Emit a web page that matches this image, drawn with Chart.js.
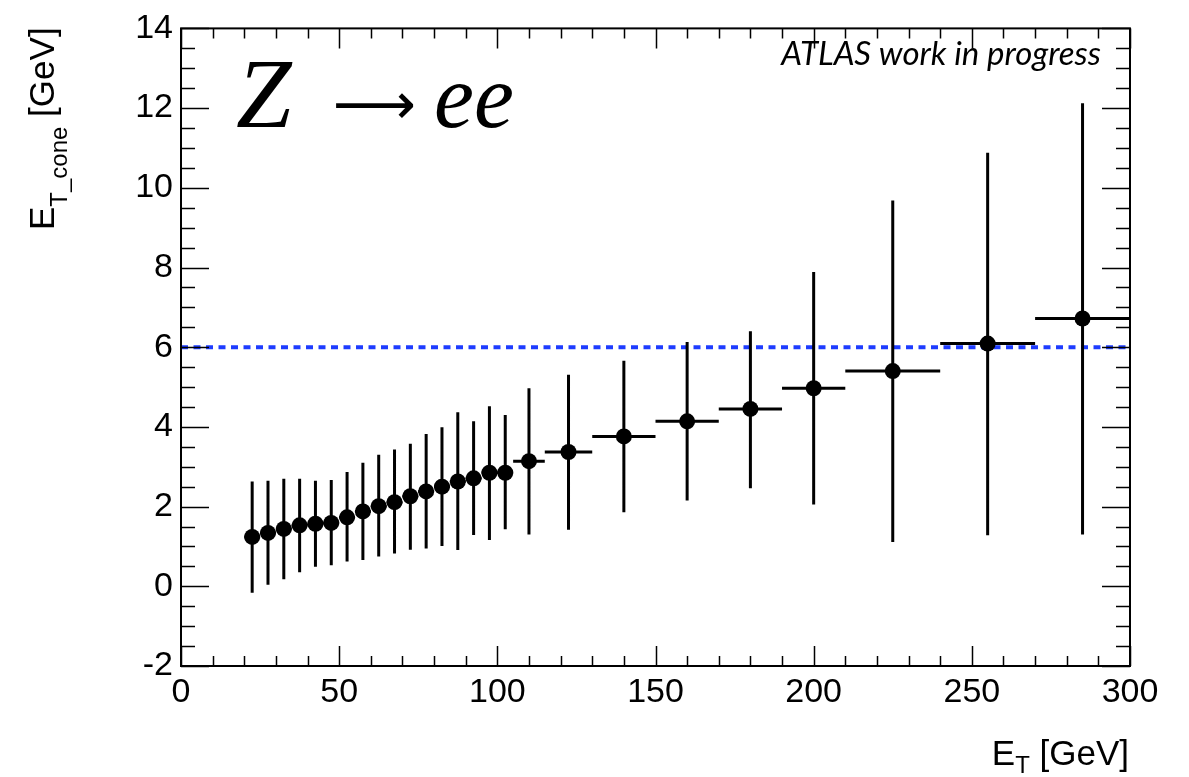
<!DOCTYPE html>
<html>
<head>
<meta charset="utf-8">
<script src="https://cdn.jsdelivr.net/npm/chart.js@4.4.1/dist/chart.umd.min.js"></script>
<style>
  html, body { margin: 0; padding: 0; background: #fff; }
  canvas { display: block; }
</style>
</head>
<body>
<canvas id="cone" width="1189" height="777"></canvas>
<script>
// bin centres and half widths in E_T [GeV]
const etCenter = [22.5, 27.5, 32.5, 37.5, 42.5, 47.5, 52.5, 57.5, 62.5, 67.5, 72.5, 77.5, 82.5, 87.5, 92.5, 97.5, 102.5,
                  110, 122.5, 140, 160, 180, 200, 225, 255, 285]
const etHalfWidth = [2.5, 2.5, 2.5, 2.5, 2.5, 2.5, 2.5, 2.5, 2.5, 2.5, 2.5, 2.5, 2.5, 2.5, 2.5, 2.5, 2.5,
                     5, 7.5, 10, 10, 10, 10, 15, 15, 15]
// mean E_T_cone and the ends of the vertical error bars [GeV]
const coneMean = [1.24, 1.34, 1.44, 1.53, 1.57, 1.59, 1.73, 1.88, 2.01, 2.11, 2.26, 2.38, 2.50, 2.63, 2.71, 2.85, 2.85,
                  3.14, 3.37, 3.76, 4.14, 4.45, 4.97, 5.40, 6.09, 6.72]
const coneHigh = [2.63, 2.65, 2.70, 2.70, 2.65, 2.67, 2.87, 3.10, 3.30, 3.43, 3.58, 3.82, 3.99, 4.37, 4.14, 4.52, 4.30,
                  4.97, 5.31, 5.66, 6.13, 6.40, 7.89, 9.68, 10.88, 12.12]
const coneLow = [-0.16, 0.04, 0.18, 0.35, 0.49, 0.53, 0.62, 0.66, 0.75, 0.82, 0.92, 0.95, 1.01, 0.91, 1.29, 1.16, 1.43,
                 1.30, 1.42, 1.86, 2.15, 2.46, 2.05, 1.11, 1.28, 1.30]
// dashed reference level
const cutLevel = 6
const cutRange = [0, 300]
// axes
const xRange = [0, 300], xMajor = 50, xMinor = 10
const yRange = [-2, 14], yMajor = 2, yMinor = 0.5

const tickFont = {family: "'Liberation Sans', Arial, sans-serif", size: 34}

const errorBars = {
    id: 'errorBars',
    beforeDatasetDraw(chart, args) {
        if (args.index !== 0) return
        const {ctx, scales: {x, y}} = chart
        ctx.save()
        ctx.strokeStyle = '#000'
        ctx.lineWidth = 3
        ctx.beginPath()
        etCenter.forEach((et, i) => {
            const px = x.getPixelForValue(et), py = y.getPixelForValue(coneMean[i])
            ctx.moveTo(px, y.getPixelForValue(coneLow[i]))
            ctx.lineTo(px, y.getPixelForValue(coneHigh[i]))
            ctx.moveTo(x.getPixelForValue(et - etHalfWidth[i]), py)
            ctx.lineTo(x.getPixelForValue(et + etHalfWidth[i]), py)
        })
        ctx.stroke()
        ctx.restore()
    }
}

// ROOT style frame with inside ticks on all four sides, plus titles and labels
const frame = {
    id: 'frame',
    afterDraw(chart) {
        const {ctx, chartArea: a, scales: {x, y}} = chart
        ctx.save()
        ctx.strokeStyle = '#000'
        ctx.lineWidth = 1.5
        ctx.beginPath()
        for (let v = xRange[0]; v <= xRange[1] + 1e-9; v += xMinor) {
            const px = Math.round(x.getPixelForValue(v)) + 0.5
            const len = Math.abs(v % xMajor) < 1e-9 ? 20 : 10
            ctx.moveTo(px, a.bottom); ctx.lineTo(px, a.bottom - len)
            ctx.moveTo(px, a.top); ctx.lineTo(px, a.top + len)
        }
        for (let v = yRange[0]; v <= yRange[1] + 1e-9; v += yMinor) {
            const py = Math.round(y.getPixelForValue(v)) + 0.5
            const len = Math.abs((v - yRange[0]) % yMajor) < 1e-9 ? 28 : 14
            ctx.moveTo(a.left, py); ctx.lineTo(a.left + len, py)
            ctx.moveTo(a.right, py); ctx.lineTo(a.right - len, py)
        }
        ctx.stroke()
        ctx.lineWidth = 2
        ctx.strokeRect(a.left, a.top, a.right - a.left, a.bottom - a.top)

        // axis titles with subscripts
        const big = "35px 'Liberation Sans', Arial, sans-serif"
        const small = "24px 'Liberation Sans', Arial, sans-serif"
        ctx.fillStyle = '#000'
        ctx.textBaseline = 'alphabetic'
        ctx.textAlign = 'left'
        const parts = (list) => list.map(([t, f, dy]) => {
            ctx.font = f
            return {t, f, dy, w: ctx.measureText(t).width}
        })
        const drawParts = (list, startX) => {
            let cx = startX
            list.forEach(p => {
                ctx.font = p.f
                ctx.fillText(p.t, cx, p.dy)
                cx += p.w
            })
        }
        const xt = parts([['E', big, 0], ['T', small, 8], [' [GeV]', big, 0]])
        const xw = xt.reduce((s, p) => s + p.w, 0)
        ctx.save()
        ctx.translate(0, 765)
        drawParts(xt, a.right - xw - 1)
        ctx.restore()

        const yt = parts([['E', big, 0], ['T_cone', small, 13], [' [GeV]', big, 0]])
        const yw = yt.reduce((s, p) => s + p.w, 0)
        ctx.save()
        ctx.translate(54, a.top + yw - 1)
        ctx.rotate(-Math.PI / 2)
        drawParts(yt, 0)
        ctx.restore()

        // labels inside the frame
        ctx.font = "italic 33px Lato, 'Open Sans', sans-serif"
        ctx.textAlign = 'right'
        ctx.fillText('ATLAS work in progress', 1101, 65)

        ctx.textAlign = 'left'
        ctx.font = "italic 100px 'Liberation Serif', 'Times New Roman', serif"
        ctx.fillText('Z', 236, 127)
        ctx.font = "58px 'DejaVu Sans', sans-serif"
        ctx.fillText('\u27F6', 333, 124)
        ctx.font = "italic 90px 'Liberation Serif', 'Times New Roman', serif"
        ctx.fillText('ee', 434, 127)
        ctx.restore()
    }
}

new Chart(document.getElementById('cone'), {
    type: 'scatter',
    data: {
        datasets: [{
            label: 'Z -> ee',
            data: etCenter.map((et, i) => ({x: et, y: coneMean[i]})),
            backgroundColor: '#000',
            borderWidth: 0,
            pointRadius: 8,
            order: 0,
        }, {
            type: 'line',
            label: 'cut',
            data: cutRange.map(v => ({x: v, y: cutLevel})),
            borderColor: 'rgb(30, 60, 255)',
            borderWidth: 4,
            borderDash: [7, 5.5],
            pointRadius: 0,
            fill: false,
            order: 1,
        }]
    },
    options: {
        responsive: false,
        animation: false,
        layout: {padding: {top: 23, right: 59, left: 0, bottom: 0}},
        plugins: {legend: {display: false}, tooltip: {enabled: false}},
        scales: {
            x: {
                type: 'linear', min: xRange[0], max: xRange[1],
                grid: {display: false, drawTicks: false}, border: {display: false},
                ticks: {stepSize: xMajor, color: '#000', font: tickFont, padding: 6, maxRotation: 0},
                afterFit: s => { s.height = 111 },
            },
            y: {
                type: 'linear', min: yRange[0], max: yRange[1],
                grid: {display: false, drawTicks: false}, border: {display: false},
                ticks: {stepSize: yMajor, color: '#000', font: tickFont, padding: 8},
                afterFit: s => { s.width = 181 },
            }
        }
    },
    plugins: [errorBars, frame]
});
</script>
</body>
</html>
